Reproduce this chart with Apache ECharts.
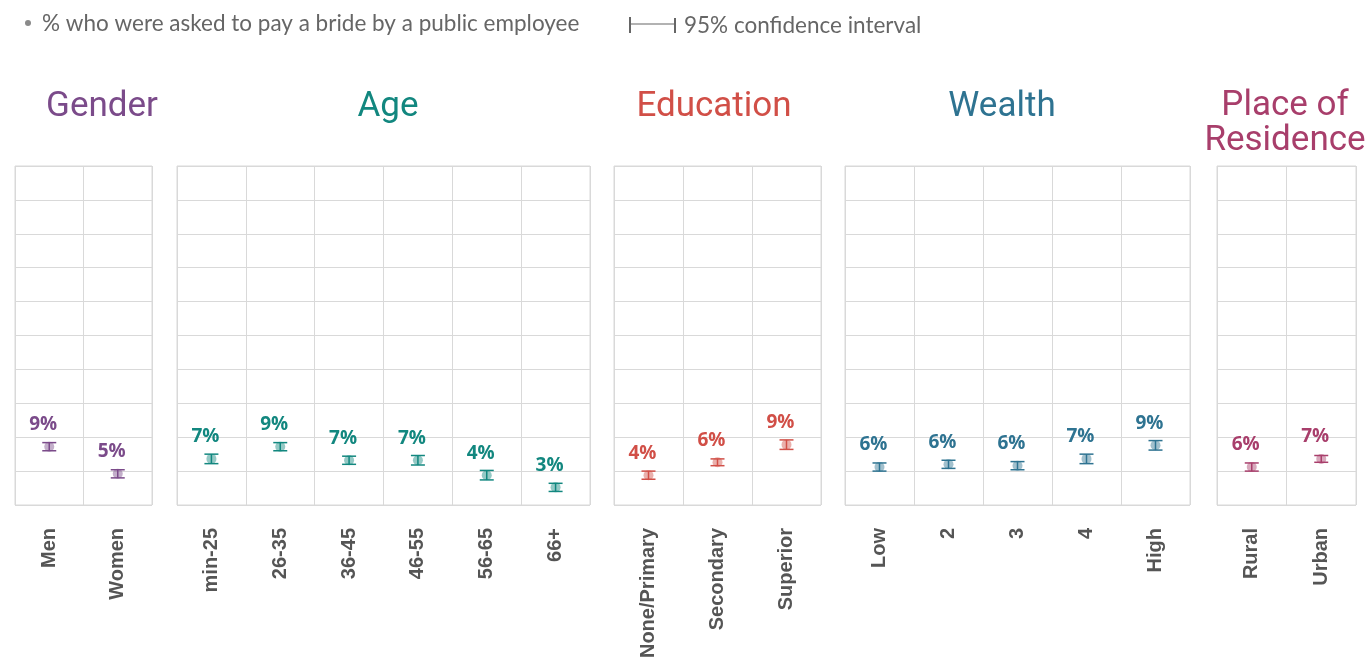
<!DOCTYPE html>
<html>
<head>
<meta charset="utf-8">
<script src="https://cdn.jsdelivr.net/npm/echarts@6.0.0/dist/echarts.min.js"></script>
<style>
  html, body { margin: 0; padding: 0; background: #fff; }
  #chart { width: 1370px; height: 663px; }
</style>
</head>
<body>
<div id="chart"></div>
<script>
// values (%), with 95% CI bounds
const genderCats = ['Men', 'Women'];
const genderVals = [8.6, 4.6];
const genderLo = [8.0, 4.0];
const genderHi = [9.2, 5.2];

const ageCats = ['min-25', '26-35', '36-45', '46-55', '56-65', '66+'];
const ageVals = [6.8, 8.6, 6.6, 6.6, 4.4, 2.6];
const ageLo = [6.1, 8.0, 6.0, 5.9, 3.7, 2.0];
const ageHi = [7.5, 9.2, 7.2, 7.3, 5.1, 3.2];

const eduCats = ['None/Primary', 'Secondary', 'Superior'];
const eduVals = [4.4, 6.3, 8.9];
const eduLo = [3.8, 5.8, 8.2];
const eduHi = [5.0, 6.8, 9.6];

const wealthCats = ['Low', '2', '3', '4', 'High'];
const wealthVals = [5.6, 6.0, 5.8, 6.8, 8.8];
const wealthLo = [5.0, 5.4, 5.2, 6.1, 8.1];
const wealthHi = [6.2, 6.6, 6.4, 7.5, 9.5];

const resCats = ['Rural', 'Urban'];
const resVals = [5.6, 6.8];
const resLo = [5.0, 6.3];
const resHi = [6.2, 7.3];

const yTicks = { min: 0, max: 50, interval: 5 };

const panels = [
  { title: 'Gender', color: '#7b4b8a', cats: genderCats, vals: genderVals, lo: genderLo, hi: genderHi, left: 15, width: 137, tx: 102 },
  { title: 'Age', color: '#12877f', cats: ageCats, vals: ageVals, lo: ageLo, hi: ageHi, left: 177, width: 413, tx: 388 },
  { title: 'Education', color: '#d14f47', cats: eduCats, vals: eduVals, lo: eduLo, hi: eduHi, left: 614, width: 207, tx: 714 },
  { title: 'Wealth', color: '#2e7391', cats: wealthCats, vals: wealthVals, lo: wealthLo, hi: wealthHi, left: 845, width: 345, tx: 1002 },
  { title: 'Place of\nResidence', color: '#a83e6b', cats: resCats, vals: resVals, lo: resLo, hi: resHi, left: 1217, width: 139, tx: 1285 }
];

const gridColor = '#d9d9d9';

function makeRender(color) {
  return function (params, api) {
    const x = api.value(0);
    const v = api.value(1);
    const p = api.coord([x, v]);
    const pLo = api.coord([x, api.value(2)]);
    const pHi = api.coord([x, api.value(3)]);
    const hw = 7;
    const line = { stroke: color, lineWidth: 1.5 };
    return {
      type: 'group',
      children: [
        { type: 'circle', shape: { cx: p[0], cy: p[1], r: 5 }, style: { fill: color, opacity: 0.45 } },
        { type: 'line', shape: { x1: p[0], y1: pLo[1], x2: p[0], y2: pHi[1] }, style: line },
        { type: 'line', shape: { x1: p[0] - hw, y1: pLo[1], x2: p[0] + hw, y2: pLo[1] }, style: line },
        { type: 'line', shape: { x1: p[0] - hw, y1: pHi[1], x2: p[0] + hw, y2: pHi[1] }, style: line },
        {
          type: 'text',
          style: {
            text: Math.round(v) + '%',
            x: p[0] - 6, y: p[1] - 22,
            align: 'center', verticalAlign: 'middle',
            font: 'bold 19px "Open Sans"',
            fill: color
          }
        }
      ]
    };
  };
}

const grids = [], xAxes = [], yAxes = [], series = [], graphics = [];
panels.forEach((pn, i) => {
  grids.push({
    left: pn.left, width: pn.width, top: 166, height: 339,
    show: true, borderColor: gridColor, borderWidth: 1,
    outerBoundsMode: 'none'
  });
  xAxes.push({
    type: 'category', gridIndex: i, data: pn.cats,
    axisLine: { show: false }, axisTick: { show: false },
    splitLine: { show: true, interval: 0, lineStyle: { color: gridColor } },
    axisLabel: {
      rotate: 90, interval: 0, margin: 23,
      color: '#555', fontSize: 20, fontWeight: 'bold',
      fontFamily: '"Liberation Sans", Arial, sans-serif'
    }
  });
  yAxes.push({
    type: 'value', gridIndex: i, min: yTicks.min, max: yTicks.max, interval: yTicks.interval,
    axisLine: { show: false }, axisTick: { show: false }, axisLabel: { show: false },
    splitLine: { show: true, lineStyle: { color: gridColor } }
  });
  series.push({
    type: 'custom', xAxisIndex: i, yAxisIndex: i,
    renderItem: makeRender(pn.color),
    encode: { x: 0, y: 1 },
    data: pn.vals.map((v, k) => [k, v, pn.lo[k], pn.hi[k]]),
    silent: true
  });
  graphics.push({
    type: 'text', x: pn.tx, y: pn.title.indexOf('\n') >= 0 ? 124 : 107,
    style: {
      text: pn.title, align: 'center', verticalAlign: 'middle',
      font: '35px Roboto', lineHeight: 35, fill: pn.color
    }
  });
});

// legend
graphics.push(
  { type: 'circle', shape: { cx: 28, cy: 23, r: 3 }, style: { fill: '#8a8a8a' } },
  { type: 'text', x: 42, y: 24, style: { text: '% who were asked to pay a bride by a public employee', verticalAlign: 'middle', font: '22.5px Lato', fill: '#666' } },
  { type: 'line', shape: { x1: 630, y1: 17, x2: 630, y2: 33 }, style: { stroke: '#666', lineWidth: 2 } },
  { type: 'line', shape: { x1: 630, y1: 24, x2: 675, y2: 24 }, style: { stroke: '#666', lineWidth: 1.2 } },
  { type: 'line', shape: { x1: 675, y1: 18, x2: 675, y2: 33 }, style: { stroke: '#666', lineWidth: 2 } },
  { type: 'text', x: 684, y: 26, style: { text: '95% confidence interval', verticalAlign: 'middle', font: '22.5px Lato', fill: '#666' } }
);

const chart = echarts.init(document.getElementById('chart'));
chart.setOption({
  animation: false,
  grid: grids,
  xAxis: xAxes,
  yAxis: yAxes,
  series: series,
  graphic: graphics
});
</script>
</body>
</html>
